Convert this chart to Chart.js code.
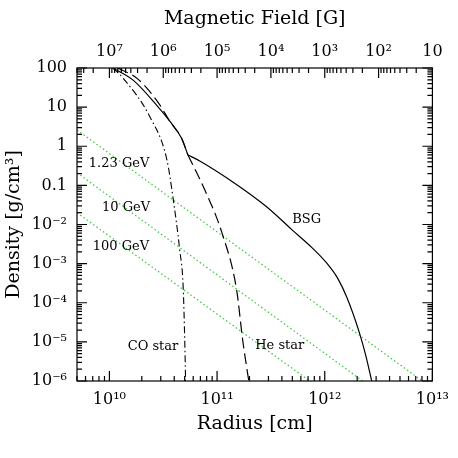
<!DOCTYPE html>
<html lang="en">
<head>
    <meta charset="UTF-8">
    <title>Density vs Radius</title>
    <script src="https://cdn.jsdelivr.net/npm/chart.js"></script>
    <style>
        body { margin: 0; background: #fff; }
        #wrap { width: 458px; height: 458px; }
    </style>
</head>
<body>
    <div id="wrap"><canvas id="densityChart" width="458" height="458"></canvas></div>

    <script>
        // radius [cm] / density [g/cm3]
        const bsgR   = [1.08e10, 1.66e10, 2.74e10, 3.65e10, 4.68e10, 5.36e10, 6.9e10, 1.4e11, 2.9e11, 5.0e11, 7.25e11, 1.04e12, 1.32e12, 1.6e12, 2.1e12, 2.4e12, 2.73e12];
        const bsgRho = [100, 49, 11.3, 4.3, 1.6, 0.6, 0.42, 0.122, 0.028, 0.0072, 2.9e-3, 1.04e-3, 4.2e-4, 1.4e-4, 1.7e-5, 4.6e-6, 1e-6];

        const heR   = [1.2e10, 1.84e10, 2.82e10, 3.65e10, 4.68e10, 5.36e10, 7.7e10, 1.11e11, 1.52e11, 1.73e11, 1.97e11];
        const heRho = [100, 52, 13.5, 4.3, 1.6, 0.6, 0.076, 0.0061, 2.1e-4, 1.1e-5, 1e-6];

        // index of the kink where the envelope ends (BSG and He star)
        const kink = 5;

        const coR   = [1.08e10, 1.34e10, 2.38e10, 3.42e10, 3.89e10, 4.5e10, 4.84e10, 5.02e10, 5.1e10];
        const coRho = [100, 55, 5.6, 0.45, 0.05, 2.2e-3, 2.6e-4, 8.3e-6, 1e-6];

        // energy threshold lines
        const g1R = [5e9, 8.05e12], g1Rho = [2.6, 1e-6];
        const g2R = [5e9, 2.25e12], g2Rho = [0.21, 1e-6];
        const g3R = [5e9, 7.25e11], g3Rho = [0.02, 1e-6];

        const xTickVals   = [1e10, 1e11, 1e12, 1e13];
        const xTickLabels = ['10¹⁰', '10¹¹', '10¹²', '10¹³'];
        const yTickVals   = [1e-6, 1e-5, 1e-4, 1e-3, 1e-2, 0.1, 1, 10, 100];
        const yTickLabels = ['10⁻⁶', '10⁻⁵', '10⁻⁴', '10⁻³', '10⁻²', '0.1', '1', '10', '100'];
        const bTickVals   = [10, 100, 1e3, 1e4, 1e5, 1e6, 1e7];
        const bTickLabels = ['10', '10²', '10³', '10⁴', '10⁵', '10⁶', '10⁷'];

        // curve labels (text, radius, density)
        const noteText = ['1.23 GeV', '10 GeV', '100 GeV', 'BSG', 'CO star', 'He star'];
        const noteR    = [1.23e10, 1.43e10, 1.28e10, 6.8e11, 2.54e10, 3.82e11];
        const noteRho  = [0.37, 0.0264, 2.66e-3, 0.013, 7.4e-6, 7.9e-6];

        const FONT = "'DejaVu Serif', serif";
        const pts = (xs, ys) => xs.map((x, i) => ({ x: x, y: ys[i] }));

        // log tick marks 1..9 x 10^n inside [min, max]
        function logMarks(min, max) {
            const out = [];
            for (let d = Math.floor(Math.log10(min)); d <= Math.ceil(Math.log10(max)); d++) {
                for (let m = 1; m <= 9; m++) {
                    const v = Number(m + 'e' + d);
                    if (v >= min * 0.9999 && v <= max * 1.0001) out.push({ v: v, major: m === 1 });
                }
            }
            return out;
        }

        const frameTicks = {
            id: 'frameTicks',
            afterDraw(chart) {
                const { ctx, chartArea: a, scales } = chart;
                ctx.save();
                ctx.strokeStyle = '#000';
                ctx.lineWidth = 1.2;
                ctx.strokeRect(a.left, a.top, a.right - a.left, a.bottom - a.top);
                ctx.beginPath();
                logMarks(scales.x.min, scales.x.max).forEach(t => {
                    const p = scales.x.getPixelForValue(t.v), len = t.major ? 10 : 5;
                    ctx.moveTo(p, a.bottom); ctx.lineTo(p, a.bottom - len);
                });
                logMarks(scales.x2.min, scales.x2.max).forEach(t => {
                    const p = scales.x2.getPixelForValue(t.v), len = t.major ? 10 : 5;
                    ctx.moveTo(p, a.top); ctx.lineTo(p, a.top + len);
                });
                logMarks(scales.y.min, scales.y.max).forEach(t => {
                    const p = scales.y.getPixelForValue(t.v), len = t.major ? 10 : 5;
                    ctx.moveTo(a.left, p); ctx.lineTo(a.left + len, p);
                    ctx.moveTo(a.right, p); ctx.lineTo(a.right - len, p);
                });
                ctx.stroke();

                ctx.fillStyle = '#000';
                ctx.font = '13px ' + FONT;
                ctx.textAlign = 'center';
                ctx.textBaseline = 'middle';
                noteText.forEach((t, i) => {
                    ctx.fillText(t, scales.x.getPixelForValue(noteR[i]), scales.y.getPixelForValue(noteRho[i]));
                });
                ctx.restore();
            }
        };

        const noGrid = { display: false, drawTicks: false };
        const solid = { borderColor: '#000', borderWidth: 1.2 };
        const dashed = { borderColor: '#000', borderWidth: 1.2, borderDash: [11, 5] };
        const dotted = { borderColor: '#33cc33', borderWidth: 1.2, borderDash: [1.5, 2.5] };

        new Chart(document.getElementById('densityChart'), {
            type: 'scatter',
            data: {
                datasets: [
                    // envelope and outer part are drawn as two pieces so the kink stays sharp
                    Object.assign({ label: 'BSG', data: pts(bsgR.slice(0, kink + 1), bsgRho.slice(0, kink + 1)) }, solid),
                    Object.assign({ label: 'BSG', data: pts(bsgR.slice(kink), bsgRho.slice(kink)) }, solid),
                    Object.assign({ label: 'He star', data: pts(heR.slice(0, kink + 1), heRho.slice(0, kink + 1)) }, dashed),
                    Object.assign({ label: 'He star', data: pts(heR.slice(kink), heRho.slice(kink)) }, dashed),
                    { label: 'CO star', data: pts(coR, coRho), borderColor: '#000', borderWidth: 1.1, borderDash: [7, 3, 1.5, 3] },
                    Object.assign({ label: '1.23 GeV', data: pts(g1R, g1Rho) }, dotted),
                    Object.assign({ label: '10 GeV', data: pts(g2R, g2Rho) }, dotted),
                    Object.assign({ label: '100 GeV', data: pts(g3R, g3Rho) }, dotted)
                ].map(d => Object.assign(d, { showLine: true, pointRadius: 0, cubicInterpolationMode: 'monotone', fill: false }))
            },
            options: {
                responsive: false,
                animation: false,
                layout: { padding: { left: 0, right: 25, top: 0, bottom: 0 } },
                plugins: { legend: { display: false }, tooltip: { enabled: false } },
                scales: {
                    x: {
                        type: 'logarithmic', position: 'bottom', min: 5e9, max: 1e13,
                        grid: noGrid, border: { display: false },
                        afterFit: s => { s.height = 77; },
                        afterBuildTicks: s => { s.ticks = xTickVals.map(v => ({ value: v })); },
                        ticks: { autoSkip: false, maxRotation: 0, padding: 9, color: '#000',
                                 font: { family: FONT, size: 16 },
                                 callback: (v, i) => xTickLabels[i] },
                        title: { display: true, text: 'Radius [cm]', color: '#000',
                                 font: { family: FONT, size: 19 }, padding: { top: 0, bottom: 23 } }
                    },
                    x2: {
                        type: 'logarithmic', position: 'top', min: 10, max: 4e7, reverse: true,
                        grid: noGrid, border: { display: false },
                        afterFit: s => { s.height = 68; },
                        afterBuildTicks: s => { s.ticks = bTickVals.map(v => ({ value: v })); },
                        ticks: { autoSkip: false, maxRotation: 0, padding: 7, color: '#000',
                                 font: { family: FONT, size: 16 },
                                 callback: (v, i) => bTickLabels[i] },
                        title: { display: true, text: 'Magnetic Field [G]', color: '#000',
                                 font: { family: FONT, size: 19 }, padding: { top: 8, bottom: 0 } }
                    },
                    y: {
                        type: 'logarithmic', position: 'left', min: 1e-6, max: 100,
                        grid: noGrid, border: { display: false },
                        afterFit: s => { s.width = 77; },
                        afterBuildTicks: s => { s.ticks = yTickVals.map(v => ({ value: v })); },
                        ticks: { autoSkip: false, padding: 10, color: '#000',
                                 font: { family: FONT, size: 16 },
                                 callback: (v, i) => yTickLabels[i] },
                        title: { display: true, text: 'Density [g/cm³]', color: '#000',
                                 font: { family: FONT, size: 19 }, padding: { top: 3, bottom: 0 } }
                    }
                }
            },
            plugins: [frameTicks]
        });
    </script>
</body>
</html>
